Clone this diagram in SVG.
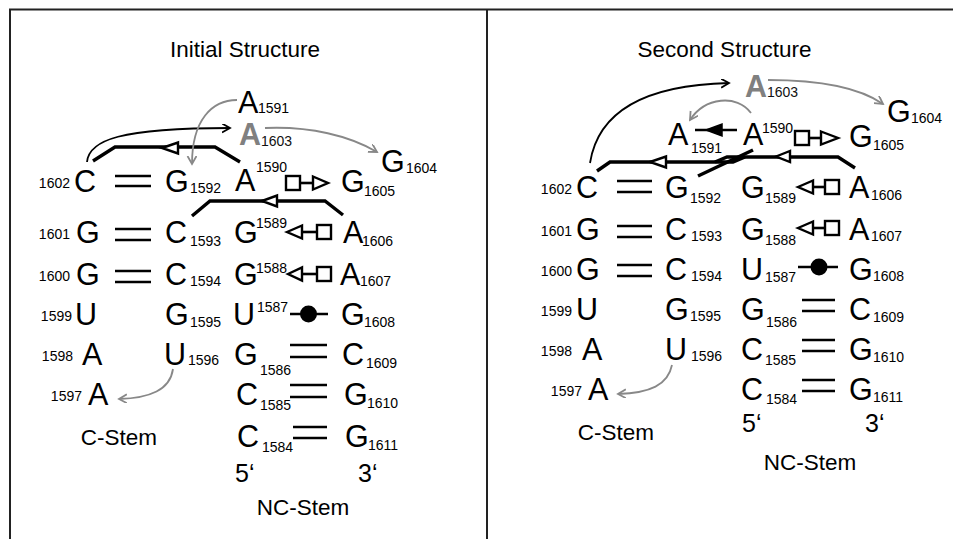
<svg xmlns="http://www.w3.org/2000/svg" width="953" height="539" viewBox="0 0 953 539">
<defs>
<style>
text{font-family:"Liberation Sans",Arial,Helvetica,sans-serif;fill:#000}
.b{font-size:30.5px}
.n{font-size:14px}
.t{font-size:22.5px}
.g{fill:#808080;font-weight:bold}
.sub{fill:#111;font-weight:normal}
.bar{stroke:#000;stroke-width:2.6;fill:none}
.thick{stroke:#000;stroke-width:3.4;fill:none;stroke-linejoin:miter}
.arc{stroke:#000;stroke-width:1.8;fill:none}
.garc{stroke:#888;stroke-width:1.8;fill:none}
.sym{fill:#fff;stroke:#000;stroke-width:2.4}
.frame{stroke:#222;stroke-width:2;fill:none}
</style>
<marker id="arrB" markerUnits="userSpaceOnUse" markerWidth="12" markerHeight="12" refX="8" refY="4.5" orient="auto"><path d="M0,0 L8,4.5 L0,9" fill="none" stroke="#000" stroke-width="1.8"/></marker>
<marker id="arrG" markerUnits="userSpaceOnUse" markerWidth="12" markerHeight="12" refX="8" refY="4.5" orient="auto"><path d="M0,0 L8,4.5 L0,9" fill="none" stroke="#888" stroke-width="1.8"/></marker>
</defs>
<rect width="953" height="539" fill="#fff"/>
<g id="frame">
<path class="frame" d="M10,539 V9.5 H953"/>
<path class="frame" d="M487,9.5 V539"/>
</g>

<!-- LEFT PANEL -->
<g id="left-title"><text class="t" x="245" y="57" text-anchor="middle">Initial Structure</text></g>
<g id="L-C1602"><text class="n" x="70" y="188" text-anchor="end">1602</text><text class="b" x="74" y="192">C</text></g>
<g id="L-G1601"><text class="n" x="70" y="239" text-anchor="end">1601</text><text class="b" x="76" y="243">G</text></g>
<g id="L-G1600"><text class="n" x="70" y="281" text-anchor="end">1600</text><text class="b" x="76" y="285">G</text></g>
<g id="L-U1599"><text class="n" x="72" y="321" text-anchor="end">1599</text><text class="b" x="75" y="325">U</text></g>
<g id="L-A1598"><text class="n" x="73" y="361" text-anchor="end">1598</text><text class="b" x="82" y="365">A</text></g>
<g id="L-A1597"><text class="n" x="82" y="401" text-anchor="end">1597</text><text class="b" x="88" y="405">A</text></g>
<g id="L-G1592"><text class="b" x="165" y="192">G<tspan class="n" x="190" y="193">1592</tspan></text></g>
<g id="L-C1593"><text class="b" x="165" y="243">C<tspan class="n" x="190" y="246">1593</tspan></text></g>
<g id="L-C1594"><text class="b" x="165" y="285">C<tspan class="n" x="190" y="286">1594</tspan></text></g>
<g id="L-G1595"><text class="b" x="165" y="325">G<tspan class="n" x="190" y="327">1595</tspan></text></g>
<g id="L-U1596"><text class="b" x="164" y="365">U<tspan class="n" x="188" y="365">1596</tspan></text></g>
<g id="L-A1590"><text class="b" x="235" y="191">A<tspan class="n" x="256" y="172">1590</tspan></text></g>
<g id="L-G1589"><text class="b" x="234" y="243">G<tspan class="n" x="256" y="228">1589</tspan></text></g>
<g id="L-G1588"><text class="b" x="234" y="285">G<tspan class="n" x="256" y="273">1588</tspan></text></g>
<g id="L-U1587"><text class="b" x="233" y="325">U<tspan class="n" x="257" y="312">1587</tspan></text></g>
<g id="L-G1586"><text class="b" x="234" y="365">G<tspan class="n" x="260" y="375">1586</tspan></text></g>
<g id="L-C1585"><text class="b" x="236" y="405">C<tspan class="n" x="260" y="410">1585</tspan></text></g>
<g id="L-C1584"><text class="b" x="237" y="447">C<tspan class="n" x="262" y="452">1584</tspan></text></g>
<g id="L-G1605"><text class="b" x="341" y="192">G<tspan class="n" x="364" y="196">1605</tspan></text></g>
<g id="L-A1606"><text class="b" x="343" y="243">A<tspan class="n" x="362" y="246">1606</tspan></text></g>
<g id="L-A1607"><text class="b" x="340" y="285">A<tspan class="n" x="360" y="286">1607</tspan></text></g>
<g id="L-G1608"><text class="b" x="341" y="325">G<tspan class="n" x="364" y="327">1608</tspan></text></g>
<g id="L-C1609"><text class="b" x="342" y="365">C<tspan class="n" x="366" y="368">1609</tspan></text></g>
<g id="L-G1610"><text class="b" x="344" y="405">G<tspan class="n" x="367" y="408">1610</tspan></text></g>
<g id="L-G1611"><text class="b" x="345" y="447">G<tspan class="n" x="368" y="450">1611</tspan></text></g>
<g id="L-A1591"><text class="b" x="238" y="113">A<tspan class="n" x="258" y="113">1591</tspan></text></g>
<g id="L-A1603"><text class="b g" x="239" y="145">A<tspan class="n sub" x="261" y="146">1603</tspan></text></g>
<g id="L-G1604"><text class="b" x="381" y="172">G<tspan class="n" x="406" y="173">1604</tspan></text></g>
<g id="L-labels">
<text class="b" x="235" y="482" style="font-size:25px">5‘</text>
<text class="b" x="358" y="482" style="font-size:25px">3‘</text>
<text class="t" x="119" y="445" text-anchor="middle">C-Stem</text>
<text class="t" x="303" y="515" text-anchor="middle">NC-Stem</text>
</g>

<!-- RIGHT PANEL -->
<g id="right-title"><text class="t" x="724.5" y="57" text-anchor="middle">Second Structure</text></g>
<g id="R-C1602"><text class="n" x="572" y="194" text-anchor="end">1602</text><text class="b" x="576" y="198">C</text></g>
<g id="R-G1601"><text class="n" x="572" y="236" text-anchor="end">1601</text><text class="b" x="576" y="240">G</text></g>
<g id="R-G1600"><text class="n" x="572" y="276" text-anchor="end">1600</text><text class="b" x="576" y="280">G</text></g>
<g id="R-U1599"><text class="n" x="572" y="316" text-anchor="end">1599</text><text class="b" x="576" y="320">U</text></g>
<g id="R-A1598"><text class="n" x="572" y="356" text-anchor="end">1598</text><text class="b" x="582" y="360">A</text></g>
<g id="R-A1597"><text class="n" x="582" y="396" text-anchor="end">1597</text><text class="b" x="588" y="400">A</text></g>
<g id="R-G1592"><text class="b" x="665" y="198">G<tspan class="n" x="690" y="203">1592</tspan></text></g>
<g id="R-C1593"><text class="b" x="665" y="240">C<tspan class="n" x="691" y="241">1593</tspan></text></g>
<g id="R-C1594"><text class="b" x="665" y="280">C<tspan class="n" x="691" y="281">1594</tspan></text></g>
<g id="R-G1595"><text class="b" x="665" y="320">G<tspan class="n" x="690" y="321">1595</tspan></text></g>
<g id="R-U1596"><text class="b" x="665" y="360">U<tspan class="n" x="691" y="361">1596</tspan></text></g>
<g id="R-G1589"><text class="b" x="741" y="198">G<tspan class="n" x="765" y="203">1589</tspan></text></g>
<g id="R-G1588"><text class="b" x="741" y="240">G<tspan class="n" x="765" y="245">1588</tspan></text></g>
<g id="R-U1587"><text class="b" x="741" y="280">U<tspan class="n" x="765" y="282">1587</tspan></text></g>
<g id="R-G1586"><text class="b" x="741" y="320">G<tspan class="n" x="766" y="327">1586</tspan></text></g>
<g id="R-C1585"><text class="b" x="741" y="360">C<tspan class="n" x="765" y="365">1585</tspan></text></g>
<g id="R-C1584"><text class="b" x="741" y="400">C<tspan class="n" x="766" y="404">1584</tspan></text></g>
<g id="R-A1606"><text class="b" x="849" y="198">A<tspan class="n" x="871" y="200">1606</tspan></text></g>
<g id="R-A1607"><text class="b" x="849" y="240">A<tspan class="n" x="871" y="241">1607</tspan></text></g>
<g id="R-G1608"><text class="b" x="849" y="280">G<tspan class="n" x="873" y="281">1608</tspan></text></g>
<g id="R-C1609"><text class="b" x="849" y="320">C<tspan class="n" x="873" y="322">1609</tspan></text></g>
<g id="R-G1610"><text class="b" x="849" y="360">G<tspan class="n" x="873" y="362">1610</tspan></text></g>
<g id="R-G1611"><text class="b" x="849" y="400">G<tspan class="n" x="873" y="402">1611</tspan></text></g>
<g id="R-A1591"><text class="b" x="668" y="145">A<tspan class="n" x="691" y="153">1591</tspan></text></g>
<g id="R-A1590"><text class="b" x="743" y="145">A<tspan class="n" x="762" y="133">1590</tspan></text></g>
<g id="R-G1605"><text class="b" x="849" y="147">G<tspan class="n" x="873" y="150">1605</tspan></text></g>
<g id="R-A1603"><text class="b g" x="745" y="97">A<tspan class="n sub" x="767" y="97">1603</tspan></text></g>
<g id="R-G1604"><text class="b" x="887" y="122">G<tspan class="n" x="911" y="123">1604</tspan></text></g>
<g id="R-labels">
<text class="b" x="742" y="432" style="font-size:25px">5‘</text>
<text class="b" x="865" y="432" style="font-size:25px">3‘</text>
<text class="t" x="616" y="440" text-anchor="middle">C-Stem</text>
<text class="t" x="810" y="470" text-anchor="middle">NC-Stem</text>
</g>

<!-- CONNECTORS -->
<g id="connectors">
<!-- left: Watson-Crick bars -->
<path class="bar" d="M115,176 H151 M115,186 H151"/>
<path class="bar" d="M115,229 H151 M115,240 H151"/>
<path class="bar" d="M115,271 H151 M115,282 H151"/>
<path class="bar" d="M290,345 H327 M290,357 H327"/>
<path class="bar" d="M290,385 H327 M290,397 H327"/>
<path class="bar" d="M293,427 H327 M293,438 H327"/>
<!-- left: thick non-canonical lines -->
<path class="thick" d="M93,161 L115,147 H215 L240,162"/>
<path class="sym" d="M162,148 L178,142.5 V153.5 Z"/>
<path class="thick" d="M192,216 L210,201 H325 L343,215"/>
<path class="sym" d="M262,201 L277,195.5 V206.5 Z"/>
<!-- left: row symbols -->
<path class="bar" d="M300,183 H313"/>
<rect class="sym" x="286" y="176" width="14" height="14"/>
<path class="sym" d="M313,176.5 L328,183 L313,189.5 Z"/>
<path class="bar" d="M302,232 H317"/>
<path class="sym" d="M287,232 L302,225.5 V238.5 Z"/>
<rect class="sym" x="317" y="225" width="14" height="14"/>
<path class="bar" d="M302,274 H317"/>
<path class="sym" d="M288,274 L302,267.5 V280.5 Z"/>
<rect class="sym" x="317" y="267" width="14" height="14"/>
<path class="bar" d="M290,314 H328"/>
<circle cx="308.5" cy="314" r="8.5" fill="#000"/>
<!-- left: arcs -->
<path class="arc" d="M87,162 C89,140 120,128 230,128" marker-end="url(#arrB)"/>
<path class="garc" d="M237,100 C212,100 192,120 192,164" marker-end="url(#arrG)"/>
<path class="garc" d="M265,128 C310,126 350,136 377,152" marker-end="url(#arrG)"/>
<path class="garc" d="M173,369 C170,390 150,398 119,399" marker-end="url(#arrG)"/>

<!-- right: Watson-Crick bars -->
<path class="bar" d="M617,181 H652 M617,192 H652"/>
<path class="bar" d="M617,226 H652 M617,237 H652"/>
<path class="bar" d="M617,265 H652 M617,276 H652"/>
<path class="bar" d="M802,300 H835 M802,311 H835"/>
<path class="bar" d="M802,340 H835 M802,351 H835"/>
<path class="bar" d="M802,380 H835 M802,391 H835"/>
<!-- right: thick lines -->
<path class="thick" d="M597,171 L610,162 H733 L745,157"/>
<path class="thick" d="M855,168 L838,157 H727 L715,162"/>
<path class="thick" d="M698,176 L753,150"/>
<path class="sym" d="M650,162 L666,156.5 V167.5 Z"/>
<path class="sym" d="M776,156.5 L790,151 V162 Z"/>
<!-- right: row symbols -->
<path class="bar" d="M695,130 H737"/>
<path d="M706,130 L722,124 V136 Z" fill="#000" stroke="#000" stroke-width="1.5"/>
<path class="bar" d="M809,138 H821"/>
<rect class="sym" x="795" y="131" width="14" height="14"/>
<path class="sym" d="M821,131.5 L838,138 L821,144.5 Z"/>
<path class="bar" d="M813,187 H825"/>
<path class="sym" d="M798,187 L813,180.5 V193.5 Z"/>
<rect class="sym" x="825" y="180" width="14" height="14"/>
<path class="bar" d="M813,228 H825"/>
<path class="sym" d="M798,228 L813,221.5 V234.5 Z"/>
<rect class="sym" x="825" y="221" width="14" height="14"/>
<path class="bar" d="M798,267 H838"/>
<circle cx="819" cy="267" r="8.5" fill="#000"/>
<!-- right: arcs -->
<path class="arc" d="M590,163 C598,112 645,85 729,83" marker-end="url(#arrB)"/>
<path class="garc" d="M768,80 C820,80 860,88 883,104" marker-end="url(#arrG)"/>
<path class="garc" d="M751,113 C737,94 705,97 690,120" marker-end="url(#arrG)"/>
<path class="garc" d="M672,365 C668,385 650,393 618,394" marker-end="url(#arrG)"/>
</g>
</svg>
